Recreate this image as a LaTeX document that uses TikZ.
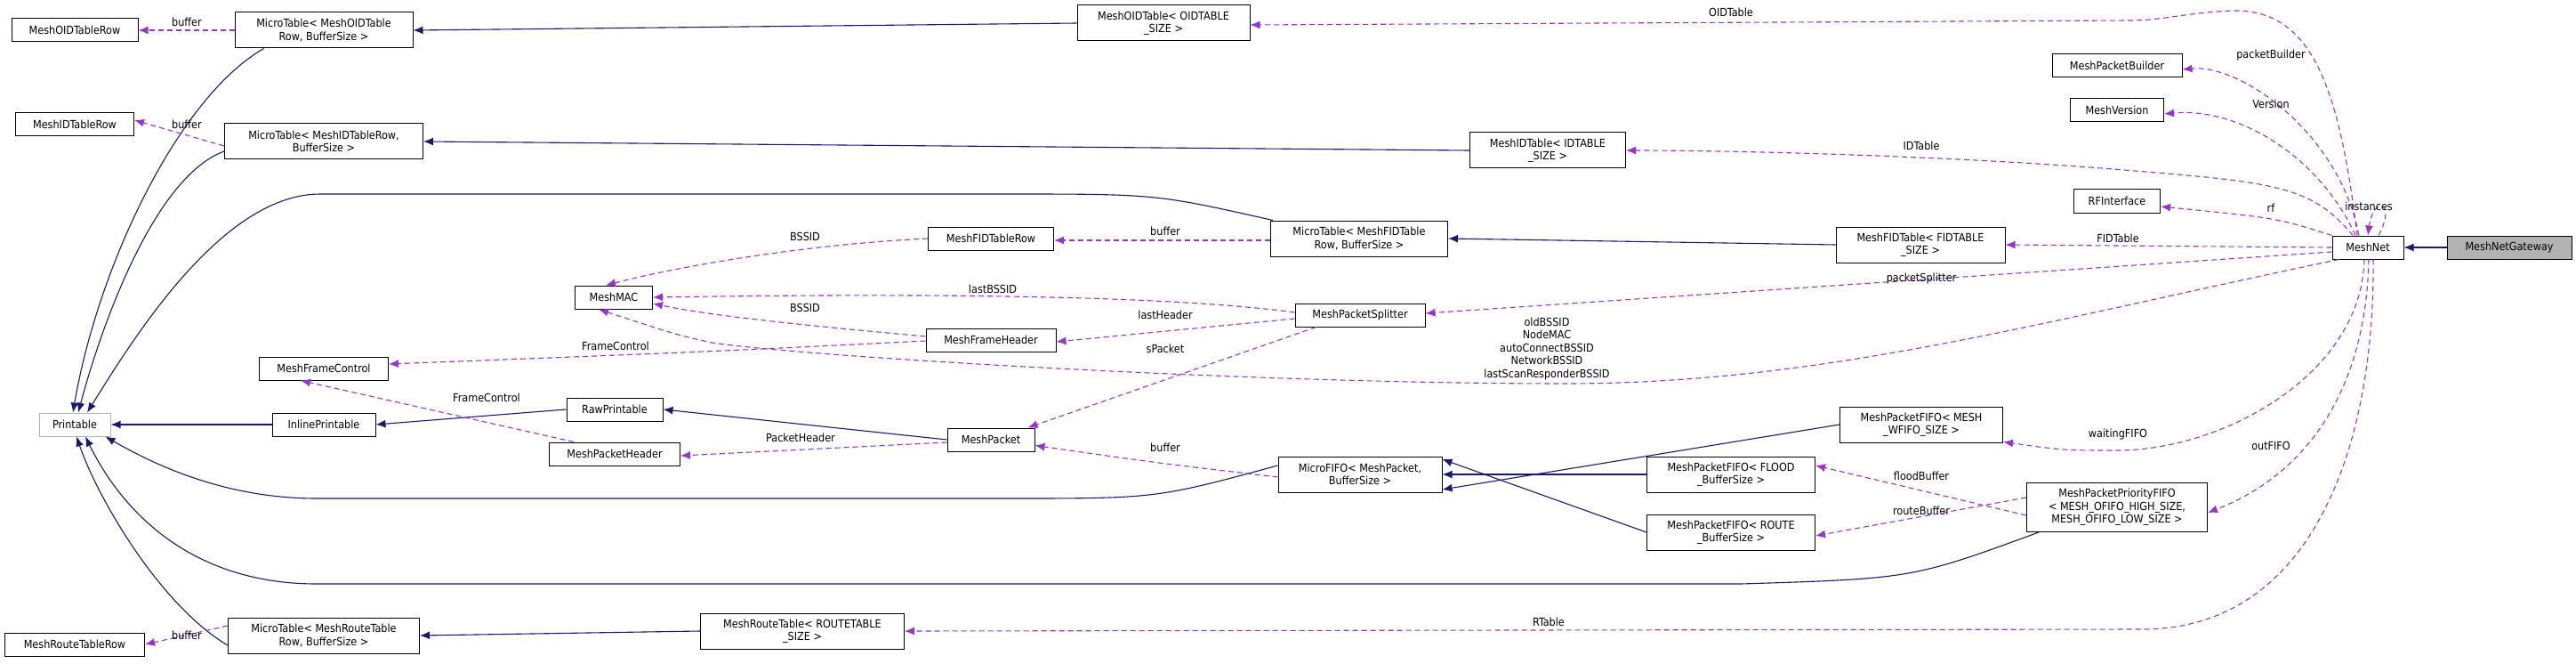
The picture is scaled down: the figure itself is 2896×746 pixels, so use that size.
\documentclass[tikz,border=0pt]{standalone}
\usepackage{fontspec}
\setmainfont{DejaVu Sans Condensed}
\usetikzlibrary{arrows.meta}
\definecolor{inh}{HTML}{191970}
\definecolor{use}{HTML}{9A32CD}
\tikzset{
	cls/.style={draw, line width=1pt, inner sep=0pt, align=center, minimum height=26pt, font=\fontsize{12.5}{14.5}\selectfont},
	two/.style={cls, minimum height=40pt},
	isa/.style={draw=inh, line width=1.1pt, -{Latex[length=11pt,width=9pt]}},
	has/.style={draw=use, line width=1.1pt, dash pattern=on 6pt off 4pt, -{Latex[length=11pt,width=9pt]}},
	lbl/.style={inner sep=0pt, align=center, font=\fontsize{12.5}{14.5}\selectfont}
}
\begin{document}
\begin{tikzpicture}[x=1pt, y=-1pt]
	\useasboundingbox (0,0) rectangle (2896,746);
	% classes
	\node[cls, minimum width=142pt] (oidrow) at (84,34) {MeshOIDTableRow};
	\node[two, minimum width=200pt] (mtoid) at (364,34) {MicroTable< MeshOIDTable\\Row, BufferSize >};
	\node[cls, minimum width=133pt] (idrow) at (84,140) {MeshIDTableRow};
	\node[two, minimum width=223pt] (mtid) at (364,159) {MicroTable< MeshIDTableRow,\\BufferSize >};
	\node[cls, minimum width=87pt] (mac) at (690,334) {MeshMAC};
	\node[cls, minimum width=145pt] (fctrl) at (364,414) {MeshFrameControl};
	\node[cls, draw=gray!60, minimum width=80pt] (printable) at (84,477) {Printable};
	\node[cls, minimum width=116pt] (inline) at (364,477) {InlinePrintable};
	\node[cls, minimum width=108pt] (raw) at (691,460) {RawPrintable};
	\node[cls, minimum width=147pt] (pheader) at (691,510) {MeshPacketHeader};
	\node[two, minimum width=215pt] (mtroute) at (364,714) {MicroTable< MeshRouteTable\\Row, BufferSize >};
	\node[cls, minimum width=157pt] (routerow) at (84,724) {MeshRouteTableRow};
	\node[two, minimum width=229pt] (routetable) at (902,709) {MeshRouteTable< ROUTETABLE\\\_SIZE >};
	\node[two, minimum width=194pt] (oidtable) at (1308,26) {MeshOIDTable< OIDTABLE\\\_SIZE >};
	\node[two, minimum width=175pt] (idtable) at (1740,169) {MeshIDTable< IDTABLE\\\_SIZE >};
	\node[cls, minimum width=141pt] (fidrow) at (1114,268) {MeshFIDTableRow};
	\node[two, minimum width=199pt] (mtfid) at (1528,268) {MicroTable< MeshFIDTable\\Row, BufferSize >};
	\node[cls, minimum width=146pt] (splitter) at (1529,354) {MeshPacketSplitter};
	\node[cls, minimum width=146pt] (fheader) at (1114,382) {MeshFrameHeader};
	\node[cls, minimum width=98pt] (packet) at (1114,494) {MeshPacket};
	\node[two, minimum width=184pt] (microfifo) at (1529,533) {MicroFIFO< MeshPacket,\\BufferSize >};
	\node[two, minimum width=189pt] (flood) at (1946,533) {MeshPacketFIFO< FLOOD\\\_BufferSize >};
	\node[two, minimum width=189pt] (route) at (1946,598) {MeshPacketFIFO< ROUTE\\\_BufferSize >};
	\node[two, minimum width=183pt] (wfifo) at (2160,477) {MeshPacketFIFO< MESH\\\_WFIFO\_SIZE >};
	\node[cls, minimum width=203pt, minimum height=55pt] (prio) at (2380,570) {MeshPacketPriorityFIFO\\< MESH\_OFIFO\_HIGH\_SIZE,\\MESH\_OFIFO\_LOW\_SIZE >};
	\node[cls, minimum width=146pt] (builder) at (2380,74) {MeshPacketBuilder};
	\node[cls, minimum width=105pt] (version) at (2380,124) {MeshVersion};
	\node[cls, minimum width=97pt] (rf) at (2380,226) {RFInterface};
	\node[two, minimum width=190pt] (fidtable) at (2159,275) {MeshFIDTable< FIDTABLE\\\_SIZE >};
	\node[cls, minimum width=80pt] (meshnet) at (2662,278) {MeshNet};
	\node[cls, fill=gray!60, minimum width=140pt] (gateway) at (2821,278) {MeshNetGateway};
	% inheritance
	\draw[isa] (gateway) -- (meshnet);
	\draw[isa] (oidtable.west) -- (mtoid.east);
	\draw[isa] (idtable.west) -- (mtid.east);
	\draw[isa] (fidtable.west) -- (mtfid.east);
	\draw[isa] (routetable.west) -- (mtroute.east);
	\draw[isa] (inline) -- (printable);
	\draw[isa] (raw.west) -- (inline.east);
	\draw[isa] (packet.west) -- (raw.east);
	\draw[isa] (wfifo.west) -- ([yshift=-17pt]microfifo.east);
	\draw[isa] (flood.west) -- (microfifo.east);
	\draw[isa] (route.west) -- ([yshift=17pt]microfifo.east);
	\draw[isa] (mtoid.south west) ++(33,0) .. controls (200,110) and (110,300) .. ([xshift=-2pt]printable.north);
	\draw[isa] (mtid.west) ++(0,11) .. controls (170,200) and (110,380) .. ([xshift=4pt]printable.north);
	\draw[isa] ([xshift=3pt]mtfid.north west) .. controls (1300,218) .. (1130,218) -- (360,218) .. controls (250,218) and (150,380) .. ([xshift=14pt]printable.north);
	\draw[isa] ([yshift=10pt]microfifo.west) .. controls (1300,560) .. (1136,560) -- (356,560) .. controls (250,560) and (170,520) .. ([xshift=-6pt]printable.south east);
	\draw[isa] ([xshift=14pt]prio.south west) .. controls (2150,650) .. (1957,656) -- (356,656) .. controls (220,656) and (140,580) .. ([xshift=12pt]printable.south);
	\draw[isa] ([yshift=-11pt]mtroute.west) .. controls (180,680) and (110,560) .. ([xshift=2pt]printable.south);
	% usage
	\draw[has] (mtoid.west) -- (oidrow.east);
	\draw[has] ([yshift=-5pt]mtid.west) -- ([yshift=5pt]idrow.east);
	\draw[has] ([yshift=11pt]mtroute.west) -- (routerow.east);
	\draw[has] ([yshift=-2pt]mtfid.west) -- ([yshift=-2pt]fidrow.east);
	\draw[has] (fidrow.west) .. controls (900,275) and (760,300) .. ([xshift=35pt]mac.north west);
	\draw[has] ([yshift=3pt]splitter.west) .. controls (1300,330) and (1000,330) .. (mac.east);
	\draw[has] ([yshift=4pt]fheader.west) .. controls (900,365) and (800,355) .. ([yshift=-7pt]mac.east);
	\draw[has] ([yshift=-1pt]fheader.west) .. controls (800,395) .. ([yshift=5pt]fctrl.east);
	\draw[has] ([xshift=28pt]pheader.north west) -- ([xshift=47pt]fctrl.south west);
	\draw[has] ([yshift=-4pt]splitter.west) -- ([yshift=-2pt]fheader.east);
	\draw[has] ([xshift=24pt]splitter.south west) -- ([xshift=-8pt]packet.north east);
	\draw[has] ([yshift=-3pt]packet.west) -- ([yshift=-2pt]pheader.east);
	\draw[has] ([yshift=-3pt]microfifo.west) .. controls (1300,520) .. ([yshift=7pt]packet.south east);
	\draw[has] ([xshift=-12pt]meshnet.north) .. controls (2630,100) and (2600,10) .. (2510,12) .. controls (2460,14) and (2430,23) .. (2395,23) -- ([yshift=-2pt]oidtable.east);
	\draw[has] ([xshift=-10pt]meshnet.north) .. controls (2630,150) and (2520,72) .. ([yshift=-4pt]builder.east);
	\draw[has] ([xshift=-14pt]meshnet.north) .. controls (2610,180) and (2520,120) .. ([yshift=-4pt]version.east);
	\draw[has] ([xshift=-17pt]meshnet.north) .. controls (2600,210) and (2560,205) .. (2400,192) .. controls (2200,175) and (1950,169) .. (idtable.east);
	\draw[has] (meshnet.north west) .. controls (2560,245) .. ([yshift=-6pt]rf.east);
	\draw[has] ([xshift=12pt]meshnet.north) .. controls (2695,225) and (2668,220) .. (meshnet.north);
	\draw[has] (meshnet.west) -- (fidtable.east);
	\draw[has] ([yshift=-5pt]meshnet.west) -- ([yshift=2pt]splitter.east);
	\draw[has] ([xshift=8pt]meshnet.south west) .. controls (2300,360) and (2050,431) .. (1760,431) .. controls (1400,431) and (900,400) .. (800,385) .. controls (760,376) .. ([xshift=27pt]mac.south west);
	\draw[has] ([xshift=-4pt]meshnet.south) .. controls (2655,420) and (2500,506) .. (2380,506) .. controls (2320,506) .. ([yshift=1pt]wfifo.south east);
	\draw[has] ([xshift=1pt]meshnet.south) .. controls (2660,430) and (2600,530) .. ([yshift=-6pt]prio.east);
	\draw[has] ([xshift=6pt]meshnet.south) .. controls (2670,500) and (2600,707) .. (2408,707) -- (routetable.east);
	\draw[has] ([yshift=-9pt]prio.west) -- ([yshift=10pt]flood.east);
	\draw[has] ([yshift=11pt]prio.west) -- ([yshift=-4pt]route.east);
	% labels
	\node[lbl] (l1) at (210,25) {buffer};
	\node[lbl] (l2) at (210,140) {buffer};
	\node[lbl] (l3) at (210,714) {buffer};
	\node[lbl] (l4) at (1310,260) {buffer};
	\node[lbl] (l5) at (905,266) {BSSID};
	\node[lbl] (l6) at (1116,325) {lastBSSID};
	\node[lbl] (l7) at (905,346) {BSSID};
	\node[lbl] (l8) at (692,389) {FrameControl};
	\node[lbl] (l9) at (547,447) {FrameControl};
	\node[lbl] (l10) at (1310,354) {lastHeader};
	\node[lbl] (l11) at (1310,392) {sPacket};
	\node[lbl] (l12) at (900,492) {PacketHeader};
	\node[lbl] (l13) at (1310,503) {buffer};
	\node[lbl] (l14) at (1739,392) {oldBSSID\\NodeMAC\\autoConnectBSSID\\NetworkBSSID\\lastScanResponderBSSID};
	\node[lbl] (l15) at (1946,14) {OIDTable};
	\node[lbl] (l16) at (2553,62) {packetBuilder};
	\node[lbl] (l17) at (2553,117) {Version};
	\node[lbl] (l18) at (2160,164) {IDTable};
	\node[lbl] (l19) at (2553,234) {rf};
	\node[lbl] (l20) at (2663,232) {instances};
	\node[lbl] (l21) at (2381,268) {FIDTable};
	\node[lbl] (l22) at (2160,313) {packetSplitter};
	\node[lbl] (l23) at (2381,488) {waitingFIFO};
	\node[lbl] (l24) at (2553,501) {outFIFO};
	\node[lbl] (l25) at (2160,535) {floodBuffer};
	\node[lbl] (l26) at (2160,574) {routeBuffer};
	\node[lbl] (l27) at (1741,699) {RTable};
\end{tikzpicture}
\end{document}
